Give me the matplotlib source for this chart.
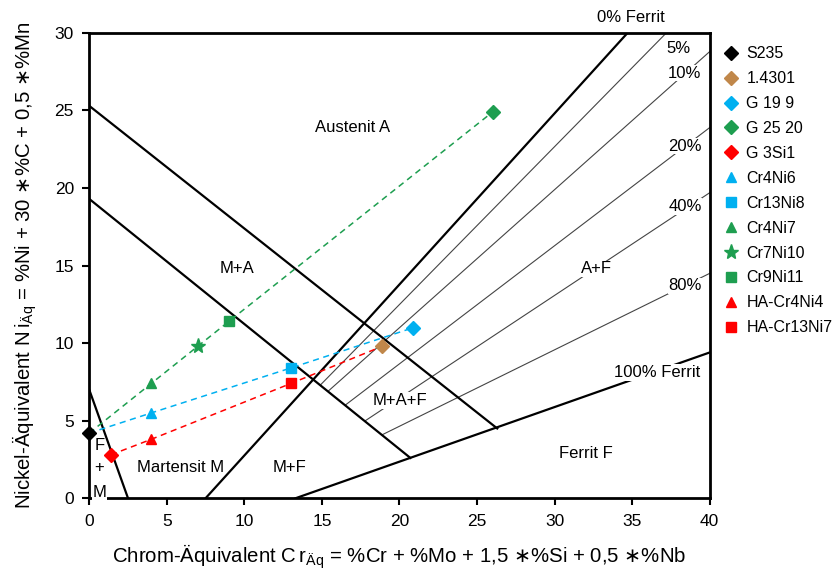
import matplotlib

matplotlib.use("Agg")
import matplotlib.pyplot as plt

plt.rcParams["font.family"] = ["Liberation Sans", "DejaVu Sans"]
plt.rcParams["mathtext.fontset"] = "dejavusans"

# --- phase boundaries (Cr_eq, Ni_eq) ---
ferrit0_x = [7.5, 34.7]
ferrit0_y = [0.0, 30.0]
ferrit100_x = [13.3, 40.0]
ferrit100_y = [0.0, 9.4]
am_upper_x = [0.0, 26.3]
am_upper_y = [25.3, 4.5]
am_lower_x = [0.0, 20.7]
am_lower_y = [19.3, 2.6]
fm_x = [0.0, 2.5]
fm_y = [7.0, 0.0]

# ferrite content lines (start on lower M line, end at border)
pct_names = ["5%", "10%", "20%", "40%", "80%"]
pct_x = [[14.9, 37.2], [15.4, 40.0], [16.5, 40.0], [17.8, 40.0], [18.9, 40.0]]
pct_y = [[7.3, 30.0], [6.9, 28.8], [6.0, 23.9], [5.0, 19.7], [4.1, 14.5]]
pct_lab_x = [38.0, 38.4, 38.4, 38.4, 38.4]
pct_lab_y = [29.0, 27.4, 22.7, 18.8, 13.7]

# --- materials ---
names = ["S235", "1.4301", "G 19 9", "G 25 20", "G 3Si1", "Cr4Ni6", "Cr13Ni8",
         "Cr4Ni7", "Cr7Ni10", "Cr9Ni11", "HA-Cr4Ni4", "HA-Cr13Ni7"]
cr_eq = [0.0, 18.9, 20.9, 26.0, 1.4, 4.0, 13.0, 4.0, 7.0, 9.0, 4.0, 13.0]
ni_eq = [4.2, 9.8, 11.0, 24.9, 2.8, 5.5, 8.4, 7.4, 9.8, 11.4, 3.8, 7.4]
markers = ["D", "D", "D", "D", "D", "^", "s", "^", "*", "s", "^", "s"]
blue = "#00B0F0"
green = "#1E9E50"
red = "#FF0000"
brown = "#C0874A"
colors = ["black", brown, blue, green, red, blue, blue, green, green, green, red, red]

# mixing lines (indices into the material lists)
mix_green = [0, 7, 8, 9, 3]
mix_blue = [0, 5, 6, 2]
mix_red = [4, 10, 11, 1]

fig = plt.figure(figsize=(8.34, 5.78), dpi=100)
ax = fig.add_axes([0.107, 0.138, 0.744, 0.805])

for xs, ys in [(ferrit0_x, ferrit0_y), (ferrit100_x, ferrit100_y), (am_upper_x, am_upper_y),
               (am_lower_x, am_lower_y), (fm_x, fm_y)]:
    ax.plot(xs, ys, color="black", lw=1.6, zorder=2)

for xs, ys in zip(pct_x, pct_y):
    ax.plot(xs, ys, color="#444444", lw=0.8, zorder=1)

wbox = dict(facecolor="white", edgecolor="none", pad=0.5)
for name, lx, ly in zip(pct_names, pct_lab_x, pct_lab_y):
    ax.text(lx, ly, name, fontsize=12, ha="center", va="center", bbox=wbox, zorder=3)

for idx, col in [(mix_green, green), (mix_blue, blue), (mix_red, red)]:
    ax.plot([cr_eq[i] for i in idx], [ni_eq[i] for i in idx], ls=(0, (4, 3)),
            color=col, lw=1.1, zorder=4)

for n, x, y, m, c in zip(names, cr_eq, ni_eq, markers, colors):
    ms = 11 if m == "*" else 7
    ax.plot([x], [y], ls="none", marker=m, ms=ms, color=c, mec=c, label=n,
            zorder=5, clip_on=False)

region_labels = [
    ("Austenit A", 17.0, 23.9), ("M+A", 9.5, 14.8), ("A+F", 32.7, 14.8),
    ("M+A+F", 20.0, 6.3), ("Martensit M", 5.9, 2.0), ("M+F", 12.9, 2.0),
    ("Ferrit F", 32.0, 2.9), ("F", 0.65, 3.4), ("+", 0.65, 2.0), ("M", 0.65, 0.35),
    ("100% Ferrit", 36.6, 8.1),
]
for t, x, y in region_labels:
    ax.text(x, y, t, fontsize=12, ha="center", va="center", bbox=wbox, zorder=3)
ax.text(34.9, 31.0, "0% Ferrit", fontsize=12, ha="center", va="center", clip_on=False)

ax.set_xlim(0, 40)
ax.set_ylim(0, 30)
ax.set_xticks(range(0, 41, 5))
ax.set_yticks(range(0, 31, 5))
for s in ax.spines.values():
    s.set_linewidth(2)
ax.tick_params(direction="out", length=5, width=1.5, labelsize=12.5, pad=6)

ax.set_xlabel(r"Chrom-Äquivalent $\mathregular{C\,r_{Äq}}$ = %Cr + %Mo + "
              r"1,5 $\ast$%Si + 0,5 $\ast$%Nb",
              fontsize=14.7, labelpad=10)
ax.set_ylabel(r"Nickel-Äquivalent $\mathregular{N\,i_{Äq}}$ = %Ni + "
              r"30 $\ast$%C + 0,5 $\ast$%Mn",
              fontsize=14.7, labelpad=11)

ax.legend(loc="upper left", bbox_to_anchor=(1.005, 0.985), frameon=False, fontsize=11.5,
          handletextpad=0.2, labelspacing=0.62, borderaxespad=0, handlelength=1.5)

fig.savefig("out.png", dpi=100)
